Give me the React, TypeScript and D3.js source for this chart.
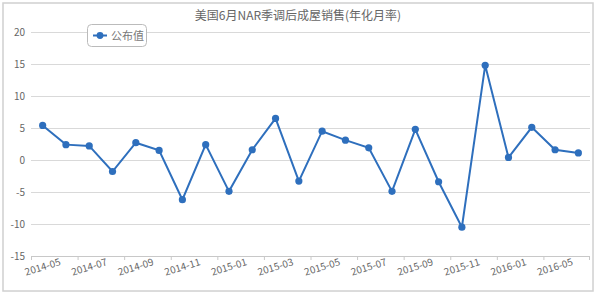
import React from "react";
import * as d3 from "d3";

const title = "美国6月NAR季调后成屋销售(年化月率)";
const seriesName = "公布值";
const categories = [
  "2014-05", "2014-06", "2014-07", "2014-08", "2014-09", "2014-10", "2014-11", "2014-12",
  "2015-01", "2015-02", "2015-03", "2015-04", "2015-05", "2015-06", "2015-07", "2015-08",
  "2015-09", "2015-10", "2015-11", "2015-12", "2016-01", "2016-03", "2016-05", "2016-06",
];
const values = [
  5.4, 2.4, 2.2, -1.8, 2.7, 1.5, -6.2, 2.4, -4.9, 1.6, 6.5, -3.3,
  4.5, 3.1, 1.9, -4.9, 4.8, -3.4, -10.5, 14.8, 0.4, 5.1, 1.6, 1.1,
];
const yTicks = [-15, -10, -5, 0, 5, 10, 15, 20];

const W = 598;
const H = 294;
const left = 31;
const right = 590;
const top = 32;
const bottom = 256;
const lineColor = "#2e6fbd";
const font = "'Noto Sans CJK SC', 'Noto Sans', sans-serif";

export default function App() {
  const x = d3.scaleBand<string>().domain(categories).range([left, right]).padding(0);
  const y = d3.scaleLinear().domain([-15, 20]).range([bottom, top]);
  const cx = (c: string) => (x(c) ?? 0) + x.bandwidth() / 2;
  const line = d3
    .line<number>()
    .x((_, i) => cx(categories[i]))
    .y((d) => y(d));

  return (
    <svg
      width={W}
      height={H}
      style={{ position: "absolute", left: 0, top: 0, background: "#fff" }}
      fontFamily={font}
    >
      <rect x={3} y={3} width={590} height={288} fill="#fff" stroke="#d0d0d0" strokeWidth={1.5} />
      <text x={298} y={20} textAnchor="middle" fontSize={12} fill="#666">
        {title}
      </text>
      {yTicks.map((t) => (
        <g key={t}>
          <line
            x1={left}
            x2={right}
            y1={y(t) + 0.5}
            y2={y(t) + 0.5}
            stroke={t === -15 ? "#c8c8c8" : "#d9d9d9"}
            strokeWidth={1}
          />
          <text x={25} y={y(t) + 3.5} textAnchor="end" fontSize={10} fill="#666">
            {t}
          </text>
        </g>
      ))}
      {categories.map((c, i) =>
        i % 2 === 0 ? (
          <line key={"t" + c} x1={x(c)! + 0.5} x2={x(c)! + 0.5} y1={bottom} y2={bottom + 4} stroke="#c8c8c8" />
        ) : null
      )}
      <line x1={right - 0.5} x2={right - 0.5} y1={bottom} y2={bottom + 4} stroke="#c8c8c8" />
      {categories.map((c, i) =>
        i % 2 === 0 ? (
          <text
            key={"l" + c}
            transform={`translate(${cx(c)},${bottom + 11}) rotate(-17)`}
            textAnchor="middle"
            fontSize={10}
            fill="#666"
            dy="0.35em"
          >
            {c}
          </text>
        ) : null
      )}
      <path d={line(values) ?? ""} fill="none" stroke={lineColor} strokeWidth={2} />
      {values.map((v, i) => (
        <circle key={i} cx={cx(categories[i])} cy={y(v)} r={3.6} fill={lineColor} />
      ))}
      <g>
        <rect x={87.5} y={24.5} width={59} height={22} rx={4} fill="#fff" stroke="#bbb" />
        <line x1={93} x2={107} y1={35.5} y2={35.5} stroke={lineColor} strokeWidth={2} />
        <circle cx={100} cy={35.5} r={3.4} fill={lineColor} />
        <text x={111} y={39.5} fontSize={11} fill="#777">
          {seriesName}
        </text>
      </g>
    </svg>
  );
}
